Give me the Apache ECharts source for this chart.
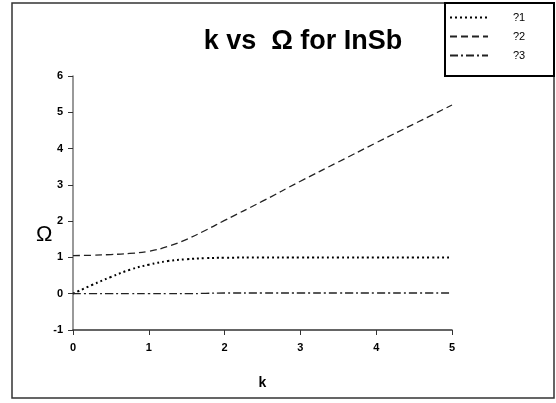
<!DOCTYPE html>
<html>
<head>
<meta charset="utf-8">
<script src="https://cdn.jsdelivr.net/npm/echarts@6/dist/echarts.min.js"></script>
<style>
  html, body { margin: 0; padding: 0; background: #fff; }
  #main { width: 556px; height: 403px; }
</style>
</head>
<body>
<div id="main"></div>
<script>
// k values and the three branches
const kValues = [0, 0.25, 0.5, 0.75, 1, 1.25, 1.5, 1.75, 2, 2.5, 3, 3.5, 4, 4.5, 5];
const omega1 = [0, 0.24, 0.46, 0.66, 0.8, 0.9, 0.95, 0.98, 0.99, 1, 1, 1, 1, 1, 1];
const omega2 = [1.05, 1.06, 1.08, 1.11, 1.17, 1.3, 1.5, 1.75, 2.02, 2.55, 3.1, 3.63, 4.16, 4.68, 5.2];
const omega3 = [0, 0, 0, 0, 0, 0, 0, 0.01, 0.02, 0.02, 0.02, 0.02, 0.02, 0.02, 0.02];
const seriesNames = ["?1", "?2", "?3"];

const pairs = (ys) => kValues.map((k, i) => [k, ys[i]]);

const chart = echarts.init(document.getElementById("main"));
const font = "Liberation Sans, Arial, sans-serif";

const option = {
  animation: false,
  color: ["#000", "#222", "#222"],
  textStyle: { fontFamily: font },
  title: {
    text: "k vs  Ω for InSb",
    left: 298,
    textAlign: "center",
    top: 23,
    textStyle: { fontSize: 27, fontWeight: "bold", color: "#000", fontFamily: font }
  },
  legend: {
    orient: "vertical",
    left: 444,
    top: 7,
    itemWidth: 38,
    itemHeight: 12,
    itemGap: 8,
    itemStyle: { opacity: 0 },
    textStyle: { fontSize: 11, color: "#000", padding: [0, 0, 0, 20] },
    data: seriesNames
  },
  grid: { left: 73, right: 104, top: 76, bottom: 73 },
  xAxis: {
    type: "value",
    min: 0, max: 5, interval: 1,
    name: "k",
    nameLocation: "middle",
    nameGap: 46,
    nameTextStyle: { fontSize: 14, fontWeight: "bold", color: "#000" },
    axisLine: { onZero: false, lineStyle: { color: "#333", width: 1.5 } },
    axisTick: { show: true, length: 5, lineStyle: { color: "#333" } },
    axisLabel: { fontSize: 11, fontWeight: "bold", color: "#000", margin: 12 },
    splitLine: { show: false }
  },
  yAxis: {
    type: "value",
    min: -1, max: 6, interval: 1,
    axisLine: { show: true, lineStyle: { color: "#777", width: 1.5 } },
    axisTick: { show: true, length: 5, lineStyle: { color: "#333" } },
    axisLabel: { fontSize: 11, fontWeight: "bold", color: "#000", margin: 10 },
    splitLine: { show: false }
  },
  graphic: [
    {
      type: "rect",
      shape: { x: 12, y: 3, width: 542, height: 395 },
      style: { fill: "none", stroke: "#333", lineWidth: 1.5 },
      z: -1
    },
    {
      type: "rect",
      shape: { x: 445, y: 3, width: 109, height: 73 },
      style: { fill: "#fff", stroke: "#000", lineWidth: 2 },
      z: 0
    },
    {
      type: "text",
      left: 36,
      top: 224,
      style: { text: "Ω", fontSize: 22, fontFamily: font, fill: "#000" }
    }
  ],
  series: [
    {
      name: seriesNames[0],
      type: "line",
      data: pairs(omega1),
      smooth: true,
      symbol: "none",
      lineStyle: { color: "#000", width: 2, type: [2, 3] }
    },
    {
      name: seriesNames[1],
      type: "line",
      data: pairs(omega2),
      smooth: true,
      symbol: "none",
      lineStyle: { color: "#222", width: 1.3, type: [7, 4] }
    },
    {
      name: seriesNames[2],
      type: "line",
      data: pairs(omega3),
      smooth: true,
      symbol: "none",
      lineStyle: { color: "#222", width: 1.3, type: [8, 3, 2, 3] }
    }
  ]
};

option && chart.setOption(option);
</script>
</body>
</html>
